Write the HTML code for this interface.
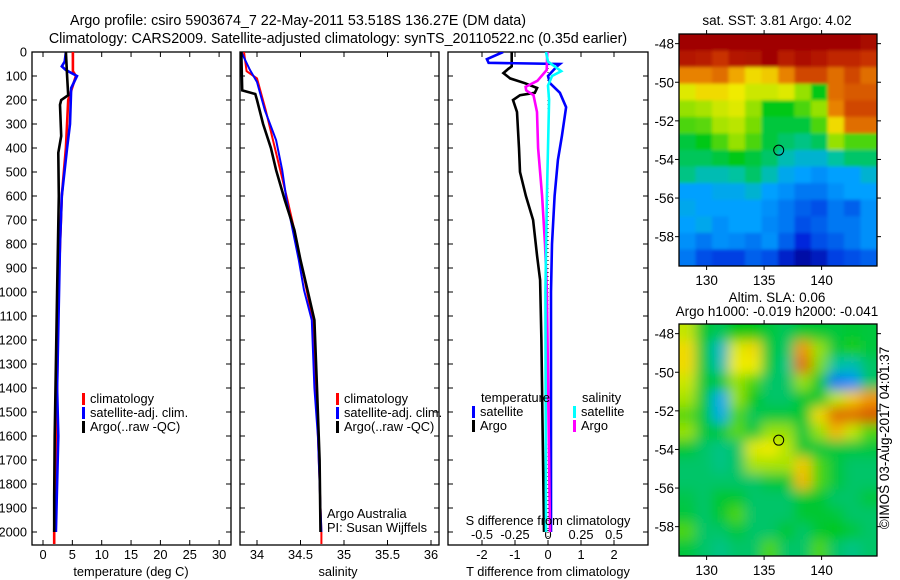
<!DOCTYPE html>
<html><head><meta charset="utf-8">
<style>
html,body{margin:0;padding:0;background:#fff;}
svg{display:block;font-family:"Liberation Sans",sans-serif;}
text{font-size:12.8px;fill:#000;}
.big{font-size:14.3px;}
.mt{font-size:13.5px;}
</style></head>
<body>
<svg id="fig" width="900" height="580" viewBox="0 0 900 580">
<defs>
<clipPath id="cp1"><rect x="32" y="52" width="199" height="493"/></clipPath>
<clipPath id="cp2"><rect x="240" y="52" width="199" height="493"/></clipPath>
<clipPath id="cp3"><rect x="448" y="52" width="200" height="493"/></clipPath>
<clipPath id="cm1"><rect x="679" y="34" width="198" height="232"/></clipPath>
<clipPath id="cm2"><rect x="679" y="324" width="198" height="232"/></clipPath>
<filter id="bl1" x="-5%" y="-5%" width="110%" height="110%"><feGaussianBlur stdDeviation="1.5"/></filter>
<filter id="bl2" x="-5%" y="-5%" width="110%" height="110%"><feGaussianBlur stdDeviation="6"/></filter>
</defs>
<text class="big" x="298" y="25" text-anchor="middle">Argo profile: csiro 5903674_7 22-May-2011 53.518S 136.27E (DM data)</text>
<text class="big" x="338" y="43" text-anchor="middle">Climatology: CARS2009. Satellite-adjusted climatology: synTS_20110522.nc (0.35d earlier)</text>
<g id="root"></g>
</svg>
<script>
// ---------- data ----------
const depthTicks = [0,100,200,300,400,500,600,700,800,900,1000,1100,1200,1300,1400,1500,1600,1700,1800,1900,2000];
const tempTicks = [0,5,10,15,20,25,30];
const salTicks = [34,34.5,35,35.5,36];
const salTickLabels = ['34','34.5','35','35.5','36'];
const tdTicks = [-2,-1,0,1,2];
const sdTicks = [-0.5,-0.25,0,0.25,0.5];
const sdTickLabels = ['-0.5','-0.25','0','0.25','0.5'];

const tClimDepth = [0,80,100,200,400,600,1000,1400,2000,2050];
const tClimVal   = [5.1,5.1,5.6,4.3,3.9,3.2,2.6,2.4,1.9,1.9];
const tSatDepth = [0,40,60,75,100,150,300,400,600,800,1400,1600,2000];
const tSatVal   = [3.9,3.7,3.2,3.9,5.8,4.8,4.6,4.1,3.2,2.9,2.4,2.6,2.2];
const tArgoDepth = [0,100,180,200,220,350,420,600,1000,1600,1850,2000];
const tArgoVal   = [3.9,4.1,4.3,3.1,2.9,3.1,2.6,2.7,2.4,2.0,1.9,1.9];

const sClimDepth = [0,80,110,242,617,742,867,992,1117,1400,2000,2050];
const sClimVal   = [33.85,33.88,34.0,34.1,34.35,34.43,34.5,34.57,34.64,34.68,34.74,34.74];
const sSatDepth = [0,75,125,242,367,492,617,742,867,992,1117,1400,1600,1800,2000];
const sSatVal   = [33.82,33.92,34.0,34.09,34.22,34.29,34.34,34.41,34.48,34.54,34.63,34.66,34.70,34.72,34.74];
const sArgoDepth = [0,160,175,200,300,400,492,617,742,867,992,1117,1400,1700,2000];
const sArgoVal   = [33.82,33.83,33.98,34.0,34.07,34.16,34.22,34.32,34.43,34.50,34.58,34.66,34.69,34.72,34.73];

const dTArgoDepth = [0,60,70,88,110,130,150,170,180,200,250,400,500,600,700,850,950,1200,2000];
const dTArgoVal   = [-1.1,-1.1,-1.2,-1.35,-1.15,-0.7,-0.33,-0.4,-0.85,-1.06,-0.94,-0.88,-0.85,-0.67,-0.45,-0.33,-0.24,-0.2,-0.12];
const dTSatDepth = [0,30,45,50,60,100,130,170,230,350,450,600,800,1000,2000];
const dTSatVal   = [-1.36,-1.85,-1.8,0.36,0.27,0.0,0.06,0.36,0.55,0.42,0.3,0.2,0.12,0.09,0.09];
const dSArgoDepth = [0,75,120,145,160,180,250,400,600,800,1000,2000];
const dSArgoVal   = [-0.005,-0.01,-0.08,-0.17,-0.165,-0.11,-0.083,-0.075,-0.045,-0.023,-0.008,0.015];
const dSSatDepth = [0,40,70,80,100,140,200,600,1000,2000];
const dSSatVal   = [-0.015,0.0,0.076,0.1,0.03,0.0,0.008,-0.008,-0.02,-0.015];

const map1Vals = [
[1,1,1,1,1,1,1,1,1,1,1,.98],
[.95,.94,.9,.95,.96,1,.94,.97,.95,.92,.92,.9],
[.82,.82,.84,.78,.72,.74,.82,.88,.88,.84,.88,.84],
[.68,.72,.72,.7,.66,.66,.68,.6,.5,.84,.86,.86],
[.6,.62,.66,.68,.6,.5,.5,.55,.6,.82,.88,.88],
[.55,.56,.62,.64,.58,.47,.47,.47,.55,.72,.84,.84],
[.47,.5,.55,.6,.55,.47,.44,.42,.45,.6,.55,.55],
[.45,.45,.47,.5,.47,.44,.38,.35,.35,.4,.44,.44],
[.42,.38,.38,.4,.44,.38,.32,.3,.28,.3,.3,.35],
[.3,.3,.32,.32,.35,.3,.28,.25,.25,.28,.3,.3],
[.32,.3,.3,.3,.3,.28,.25,.22,.2,.25,.22,.28],
[.3,.32,.28,.3,.3,.27,.25,.2,.22,.25,.25,.28],
[.28,.25,.28,.27,.25,.28,.22,.15,.2,.22,.25,.28],
[.25,.2,.18,.18,.22,.2,.12,.06,.1,.18,.2,.22]];
const map2Vals = [
[.65,.48,.45,.5,.5,.47,.45,.48,.48,.47,.48,.47],
[.72,.47,.36,.68,.72,.47,.44,.8,.6,.47,.52,.47],
[.72,.47,.38,.7,.7,.47,.42,.84,.58,.4,.38,.44],
[.66,.47,.48,.6,.55,.44,.44,.6,.48,.25,.28,.44],
[.62,.47,.32,.6,.5,.44,.44,.48,.48,.64,.74,.8],
[.56,.47,.33,.55,.45,.47,.47,.48,.72,.84,.84,.86],
[.6,.47,.47,.56,.47,.6,.6,.47,.6,.76,.65,.55],
[.48,.44,.42,.44,.68,.7,.64,.48,.47,.47,.47,.47],
[.44,.44,.42,.44,.62,.62,.62,.74,.55,.47,.44,.44],
[.44,.44,.44,.44,.44,.47,.48,.76,.55,.47,.44,.44],
[.46,.44,.48,.48,.44,.44,.44,.48,.48,.44,.44,.47],
[.47,.44,.48,.55,.44,.44,.44,.48,.48,.47,.44,.44],
[.55,.44,.44,.47,.44,.44,.48,.44,.48,.5,.47,.44],
[.47,.44,.42,.44,.44,.55,.44,.44,.55,.44,.42,.44]];
const latTicks = [-48,-50,-52,-54,-56,-58];
const lonTicks = [130,135,140];
const floatLon = 136.27, floatLat = -53.52;

// ---------- helpers ----------
const NS='http://www.w3.org/2000/svg';
const root=document.getElementById('root');
function mk(tag,attrs,parent){const e=document.createElementNS(NS,tag);for(const k in attrs)e.setAttribute(k,attrs[k]);(parent||root).appendChild(e);return e;}
function txt(x,y,s,anchor,parent,cls){const t=mk('text',{x:x,y:y,'text-anchor':anchor||'start'},parent);if(cls)t.setAttribute('class',cls);t.textContent=s;return t;}
const Y0=52, PXM=0.24;
const yD=d=>Y0+d*PXM;
const xT=v=>43+v*5.87;
const xS=v=>257+(v-34)*87;
const xTD=v=>548+v*33;
const xSD=v=>548+v*132;

function frame(x,w,name){
  const r=mk('rect',{x:x,y:52,width:w,height:493,fill:'none',stroke:'#000','stroke-width':1.3});
  
  
  depthTicks.forEach(d=>{mk('line',{x1:x,x2:x+5,y1:yD(d),y2:yD(d),stroke:'#000'});mk('line',{x1:x+w-5,x2:x+w,y1:yD(d),y2:yD(d),stroke:'#000'});});
}
function line(ds,vs,fx,color,clip,name,w){
  const pts=ds.map((d,i)=>fx(vs[i]).toFixed(1)+','+yD(d).toFixed(1)).join(' ');
  const p=mk('polyline',{points:pts,fill:'none',stroke:color,'stroke-width':w||2.6,'clip-path':'url(#'+clip+')','stroke-linejoin':'miter'});
  
  
}
function xticks(ticks,labels,fx,yTop,yBot,labY,name){
  const g=mk('g',{});
  
  
  ticks.forEach((t,i)=>{const x=fx(t);
    mk('line',{x1:x,x2:x,y1:yTop,y2:yTop+5,stroke:'#000'},g);
    mk('line',{x1:x,x2:x,y1:yBot-5,y2:yBot,stroke:'#000'},g);
    txt(x,labY,labels[i],'middle',g);});
}

// ---------- panel 1 : temperature ----------
frame(32,199,'temperature-panel');
depthTicks.forEach(d=>{txt(27,yD(d)+4.5,String(d),'end');});
xticks(tempTicks,tempTicks.map(String),xT,52,545,559,'temperature-x-axis');
txt(131,576,'temperature (deg C)','middle');
line(tClimDepth,tClimVal,xT,'#ff0000','cp1','temp-climatology-line');
line(tSatDepth,tSatVal,xT,'#0000ff','cp1','temp-satellite-line');
line(tArgoDepth,tArgoVal,xT,'#000000','cp1','temp-argo-line');

// ---------- panel 2 : salinity ----------
frame(240,199,'salinity-panel');
xticks(salTicks,salTickLabels,xS,52,545,559,'salinity-x-axis');
txt(338,576,'salinity','middle');
line(sClimDepth,sClimVal,xS,'#ff0000','cp2','sal-climatology-line',2);
line(sSatDepth,sSatVal,xS,'#0000ff','cp2','sal-satellite-line',2);
line(sArgoDepth,sArgoVal,xS,'#000000','cp2','sal-argo-line',2.6);
txt(327,518,'Argo Australia');
txt(327,532,'PI: Susan Wijffels');

function legend(x,y,items,name){
  const g=mk('g',{});
  
  
  items.forEach((it,i)=>{mk('rect',{x:x,y:y+i*14-10,width:3,height:12,fill:it[0]},g);txt(x+8,y+i*14,it[1],'start',g);});
}
legend(82,403,[['#ff0000','climatology'],['#0000ff','satellite-adj. clim.'],['#000','Argo(..raw -QC)']],'temperature-legend');
legend(336,403,[['#ff0000','climatology'],['#0000ff','satellite-adj. clim.'],['#000','Argo(..raw -QC)']],'salinity-legend');

// ---------- panel 3 : differences ----------
frame(448,200,'difference-panel');
mk('line',{x1:548,x2:548,y1:52,y2:545,stroke:'#000','stroke-dasharray':'1,3'});
xticks(tdTicks,tdTicks.map(String),xTD,52,545,559,'t-difference-x-axis');
sdTicks.forEach((t,i)=>{const x=xSD(t);mk('line',{x1:x,x2:x,y1:540,y2:545,stroke:'#000'});txt(x,539,sdTickLabels[i],'middle');});
line(dTArgoDepth,dTArgoVal,xTD,'#000000','cp3','tdiff-argo-line');
line(dTSatDepth,dTSatVal,xTD,'#0000ff','cp3','tdiff-satellite-line');
line(dSArgoDepth,dSArgoVal,xSD,'#ff00ff','cp3','sdiff-argo-line');
line(dSSatDepth,dSSatVal,xSD,'#00ffff','cp3','sdiff-satellite-line');
txt(548,525,'S difference from climatology','middle');
txt(548,576,'T difference from climatology','middle');
txt(481,402,'temperature');
txt(582,402,'salinity');
legend(472,416,[['#0000ff','satellite'],['#000','Argo']],'tdiff-legend');
legend(573,416,[['#00ffff','satellite'],['#ff00ff','Argo']],'sdiff-legend');

// ---------- maps ----------
const cstops=[[0,[0,0,130]],[.15,[0,40,220]],[.3,[0,160,255]],[.4,[0,195,160]],[.5,[0,200,20]],[.6,[150,225,0]],[.7,[240,235,0]],[.8,[240,150,0]],[.9,[200,50,0]],[1,[160,0,0]]];
function cmap(v){for(let i=1;i<cstops.length;i++){if(v<=cstops[i][0]){const a=cstops[i-1],b=cstops[i];const f=(v-a[0])/(b[0]-a[0]);return 'rgb('+a[1].map((c,j)=>Math.round(c+(b[1][j]-c)*f)).join(',')+')';}}return 'rgb(160,0,0)';}
const MX=679,MW=198,MH=232;
const xLon=l=>MX+(l-127.6)*11.5;
function drawMap(top,vals,clip,blur,name){
  const outer=mk('g',{'clip-path':'url(#'+clip+')'});
  
  
  const g=mk('g',{filter:'url(#'+blur+')'},outer);
  const rows=vals.length,cols=vals[0].length,cw=MW/cols,ch=MH/rows;
  for(let r=-1;r<=rows;r++)for(let c=-1;c<=cols;c++){
    const v=vals[Math.min(rows-1,Math.max(0,r))][Math.min(cols-1,Math.max(0,c))];
    mk('rect',{x:MX+c*cw,y:top+r*ch,width:cw+0.6,height:ch+0.6,fill:cmap(v)},g);
  }
  mk('rect',{x:MX,y:top,width:MW,height:MH,fill:'none',stroke:'#000','stroke-width':1.3});
  const yLat=l=>top+(-47.5-l)*19.3;
  latTicks.forEach(l=>{const y=yLat(l);mk('line',{x1:MX-4,x2:MX,y1:y,y2:y,stroke:'#000'});mk('line',{x1:MX+MW,x2:MX+MW+4,y1:y,y2:y,stroke:'#000'});txt(MX-5,y+5,String(l),'end',null,'mt');});
  lonTicks.forEach(l=>{const x=xLon(l);mk('line',{x1:x,x2:x,y1:top-4,y2:top,stroke:'#000'});mk('line',{x1:x,x2:x,y1:top+MH,y2:top+MH+4,stroke:'#000'});txt(x,top+MH+19,String(l),'middle',null,'mt');});
  const m=mk('circle',{cx:xLon(floatLon),cy:yLat(floatLat),r:5,fill:'none',stroke:'#000','stroke-width':1});
  
  
}
drawMap(34,map1Vals,'cm1','bl1','sst-map');
drawMap(324,map2Vals,'cm2','bl2','sla-map');
txt(777,25,'sat. SST: 3.81  Argo: 4.02','middle',null,'mt');
txt(777,302,'Altim. SLA: 0.06','middle',null,'mt');
txt(777,316,'Argo h1000: -0.019 h2000: -0.041','middle',null,'mt');
const cr=txt(0,0,'©IMOS 03-Aug-2017 04:01:37','middle',null,'mt');
cr.setAttribute('transform','translate(889,438) rotate(-90)');

</script>
</body></html>
